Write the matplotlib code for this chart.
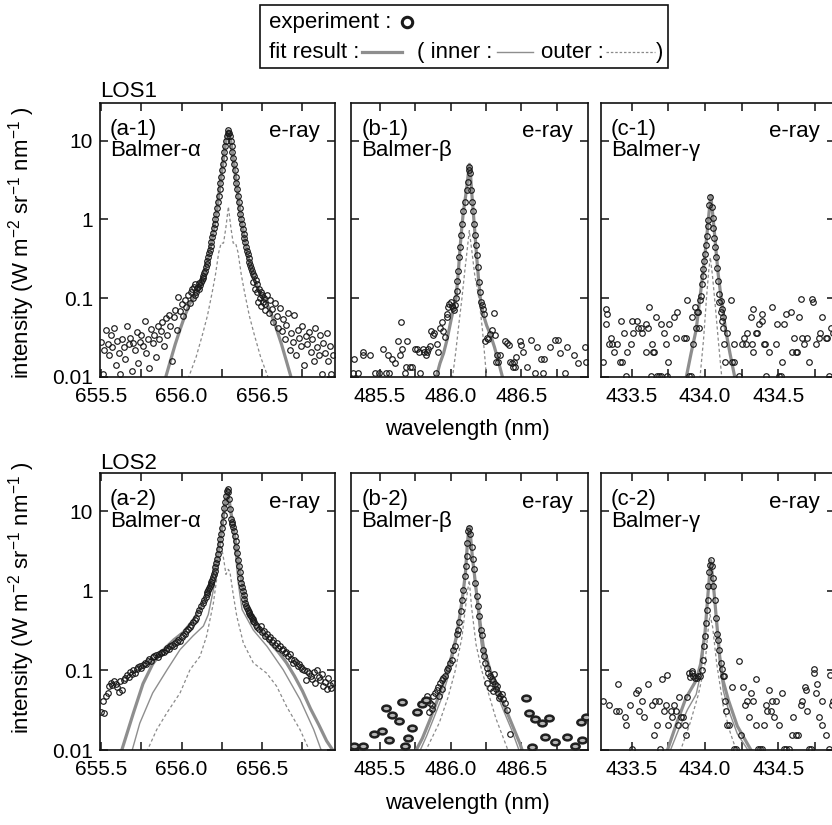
import matplotlib
matplotlib.use("Agg")
import matplotlib.pyplot as plt
from matplotlib.lines import Line2D
from matplotlib.patches import Rectangle
from matplotlib.path import Path
from matplotlib.transforms import Affine2D
from matplotlib.ticker import MultipleLocator, FixedLocator, FuncFormatter, NullLocator

plt.rcParams["font.family"] = ["Liberation Sans", "DejaVu Sans"]
plt.rcParams["mathtext.fontset"] = "custom"
plt.rcParams["mathtext.rm"] = "Liberation Sans"
plt.rcParams["mathtext.it"] = "Liberation Sans:italic"
plt.rcParams["mathtext.default"] = "regular"

# ---------------------------------------------------------------- LOS1, H-alpha
A1_WL = [
    655.50, 655.51, 655.52, 655.53, 655.54, 655.55, 655.56, 655.57, 655.58, 655.59,
    655.60, 655.61, 655.62, 655.63, 655.64, 655.65, 655.66, 655.67, 655.68, 655.69,
    655.70, 655.71, 655.72, 655.73, 655.74, 655.75, 655.76, 655.77, 655.78, 655.79,
    655.80, 655.81, 655.82, 655.83, 655.84, 655.85, 655.86, 655.87, 655.88, 655.89,
    655.90, 655.91, 655.92, 655.93, 655.94, 655.95, 655.96, 655.97, 655.98, 655.99,
    656.00, 656.01, 656.02, 656.03, 656.04, 656.05, 656.06,
    656.065, 656.070, 656.075, 656.080, 656.085, 656.090, 656.095, 656.100, 656.105, 656.110,
    656.115, 656.120, 656.125, 656.130, 656.135, 656.140, 656.145, 656.150, 656.155, 656.160,
    656.165, 656.170, 656.175, 656.180, 656.185, 656.190, 656.195, 656.200, 656.205, 656.210,
    656.215, 656.220, 656.225, 656.230, 656.235, 656.240, 656.245, 656.250, 656.255, 656.260,
    656.265, 656.270, 656.275, 656.280, 656.285, 656.290, 656.295, 656.300, 656.305, 656.310,
    656.315, 656.320, 656.325, 656.330, 656.335, 656.340, 656.345, 656.350, 656.355, 656.360,
    656.365, 656.370, 656.375, 656.380, 656.385, 656.390, 656.395, 656.400, 656.405, 656.410,
    656.415, 656.420, 656.425, 656.430, 656.435, 656.440, 656.445, 656.450, 656.455, 656.460,
    656.465, 656.470, 656.475, 656.480, 656.485, 656.490, 656.495, 656.500, 656.505, 656.510,
    656.515,
    656.52, 656.53, 656.54, 656.55, 656.56, 656.57, 656.58, 656.59, 656.60, 656.61,
    656.62, 656.63, 656.64, 656.65, 656.66, 656.67, 656.68, 656.69, 656.70, 656.71,
    656.72, 656.73, 656.74, 656.75, 656.76, 656.77, 656.78, 656.79, 656.80, 656.81,
    656.82, 656.83, 656.84, 656.85, 656.86, 656.87, 656.88, 656.89, 656.90, 656.91,
    656.92, 656.93, 656.94,
]
A1_INT = [
    0.028, 0.011, 0.022, 0.040, 0.026, 0.019, 0.034, 0.024, 0.042, 0.014,
    0.029, 0.020, 0.011, 0.030, 0.024, 0.017, 0.044, 0.026, 0.031, 0.012,
    0.027, 0.022, 0.037, 0.015, 0.028, 0.034, 0.025, 0.052, 0.020, 0.030,
    0.013, 0.041, 0.027, 0.034, 0.018, 0.045, 0.030, 0.038, 0.050, 0.025,
    0.056, 0.034, 0.062, 0.045, 0.016, 0.058, 0.070, 0.040, 0.105, 0.068,
    0.085, 0.060, 0.095, 0.078, 0.110, 0.088, 0.120,
    0.13, 0.10, 0.14, 0.11, 0.15, 0.12, 0.135, 0.14, 0.13, 0.155,
    0.145, 0.16, 0.17, 0.18, 0.19, 0.21, 0.22, 0.25, 0.27, 0.30,
    0.33, 0.37, 0.41, 0.46, 0.52, 0.59, 0.67, 0.77, 0.88, 1.0,
    1.18, 1.4, 1.67, 2.0, 2.41, 2.9, 3.5, 4.2, 5.0, 6.0,
    7.1, 8.5, 9.9, 11.5, 12.5, 13.5, 12.5, 11.5, 9.9, 8.5,
    7.1, 6.0, 5.0, 4.2, 3.5, 2.9, 2.4, 2.0, 1.67, 1.4,
    1.18, 1.0, 0.87, 0.76, 0.66, 0.58, 0.51, 0.45, 0.40, 0.36,
    0.32, 0.29, 0.26, 0.24, 0.22, 0.20, 0.16, 0.19, 0.13, 0.17,
    0.12, 0.15, 0.09, 0.13, 0.10, 0.12, 0.08, 0.11, 0.09, 0.10,
    0.07,
    0.085, 0.11, 0.065, 0.095, 0.072, 0.050, 0.088, 0.060, 0.042, 0.075,
    0.038, 0.055, 0.030, 0.046, 0.064, 0.022, 0.036, 0.028, 0.062, 0.019,
    0.040, 0.031, 0.025, 0.045, 0.014, 0.033, 0.026, 0.037, 0.021, 0.030,
    0.016, 0.042, 0.024, 0.019, 0.034, 0.011, 0.027, 0.020, 0.036, 0.016,
    0.025, 0.011, 0.019,
]
A1_FIT_WL = [
    655.90, 655.93, 655.96, 655.99, 656.02, 656.05, 656.07, 656.09, 656.11, 656.13,
    656.15, 656.17, 656.19, 656.21, 656.22, 656.23, 656.24, 656.25, 656.26, 656.27,
    656.28, 656.29, 656.30, 656.31, 656.32, 656.33, 656.34, 656.35, 656.36, 656.37,
    656.39, 656.41, 656.43, 656.45, 656.47, 656.49, 656.51, 656.53, 656.56, 656.59,
    656.62, 656.65, 656.68,
]
A1_FIT = [
    0.0098, 0.016, 0.026, 0.040, 0.060, 0.085, 0.098, 0.115, 0.14, 0.175,
    0.24, 0.36, 0.58, 1.0, 1.4, 2.0, 2.9, 4.2, 6.0, 8.5,
    11.5, 13.5, 11.5, 8.5, 6.0, 4.2, 2.9, 2.0, 1.4, 1.0,
    0.58, 0.36, 0.24, 0.175, 0.14, 0.115, 0.098, 0.085, 0.060, 0.040,
    0.026, 0.016, 0.0098,
]
A1_OUT_WL = [656.04, 656.09, 656.13, 656.16, 656.19, 656.21, 656.23, 656.245, 656.26, 656.275,
             656.29, 656.305, 656.32, 656.335, 656.35, 656.37, 656.39, 656.42, 656.45, 656.49,
             656.54]
A1_OUT = [0.0095, 0.018, 0.035, 0.06, 0.12, 0.2, 0.38, 0.5, 0.5, 0.8,
          1.45, 0.8, 0.5, 0.5, 0.38, 0.2, 0.12, 0.06, 0.035, 0.018,
          0.0095]

# ---------------------------------------------------------------- LOS1, H-beta
B1_WL = [
    485.307, 485.317, 485.347, 485.378, 485.383, 485.430, 485.465, 485.496,
    485.524, 485.540, 485.559, 485.567, 485.585, 485.607, 485.630, 485.642,
    485.647, 485.654, 485.677, 485.684, 485.694, 485.713, 485.724, 485.748,
    485.760, 485.779, 485.783, 485.807, 485.814, 485.826, 485.835, 485.842,
    485.854, 485.861, 485.878, 485.882, 485.896, 485.901, 485.913, 485.925,
    485.936, 485.943, 485.960, 485.972, 485.976, 485.984, 485.991, 486.000,
    486.009, 486.016, 486.024, 486.031, 486.038, 486.042, 486.047, 486.054,
    486.061, 486.066, 486.073, 486.082, 486.090, 486.101, 486.113, 486.122,
    486.127, 486.132, 486.137, 486.146, 486.153, 486.160, 486.167, 486.172,
    486.179, 486.184, 486.191, 486.200, 486.206, 486.212, 486.219, 486.226,
    486.236, 486.243, 486.254, 486.266, 486.278, 486.292, 486.306, 486.313,
    486.320, 486.325, 486.337, 486.350, 486.384, 486.396, 486.412, 486.419,
    486.431, 486.438, 486.448, 486.455, 486.466, 486.490, 486.495, 486.514,
    486.537, 486.572, 486.596, 486.608, 486.636, 486.655, 486.660, 486.702,
    486.737, 486.761, 486.773, 486.808, 486.824, 486.870, 486.900, 486.949,
    486.956,
]
B1_INT = [
    0.0114, 0.0171, 0.0114, 0.0190, 0.0209, 0.0190, 0.0114, 0.0114,
    0.0228, 0.0114, 0.0190, 0.0114, 0.0171, 0.0152, 0.0285, 0.0190,
    0.0494, 0.0228, 0.0114, 0.0133, 0.0285, 0.0133, 0.0133, 0.0228,
    0.0228, 0.0209, 0.0114, 0.0228, 0.0209, 0.0190, 0.0209, 0.0228,
    0.0247, 0.0380, 0.0342, 0.0361, 0.0114, 0.0266, 0.0209, 0.0418,
    0.0494, 0.0380, 0.0323, 0.0570, 0.0630, 0.0780, 0.0850, 0.0890,
    0.0800, 0.0750, 0.0710, 0.0830, 0.102, 0.124, 0.166, 0.22,
    0.33, 0.44, 0.64, 0.87, 1.26, 1.68, 2.36, 3.0,
    4.2, 4.64, 3.83, 2.36, 1.68, 1.26, 0.87, 0.64,
    0.48, 0.35, 0.25, 0.16, 0.12, 0.089, 0.083, 0.074,
    0.063, 0.0290, 0.0315, 0.0306, 0.0354, 0.0390, 0.0650, 0.0337,
    0.0156, 0.0189, 0.0156, 0.0189, 0.0290, 0.0270, 0.0253, 0.0156,
    0.0149, 0.0133, 0.0156, 0.0133, 0.0180, 0.0290, 0.0253, 0.0208,
    0.0133, 0.0298, 0.0114, 0.0241, 0.0171, 0.0114, 0.0171, 0.0241,
    0.0298, 0.0298, 0.0199, 0.0114, 0.0241, 0.0190, 0.0152, 0.0241,
    0.0156,
]
B1_FIT_WL = [485.895, 485.925, 485.950, 485.975, 486.005, 486.038, 486.054, 486.066, 486.077,
             486.090, 486.101, 486.113, 486.125, 486.133, 486.140, 486.150, 486.160, 486.172,
             486.184, 486.198, 486.212, 486.236, 486.255, 486.280, 486.310, 486.335, 486.370]
B1_FIT = [0.0095, 0.015, 0.020, 0.030, 0.055, 0.10, 0.21, 0.42, 0.72,
          1.25, 1.70, 2.45, 3.80, 5.0, 3.9, 2.1, 1.26, 0.66,
          0.34, 0.17, 0.093, 0.058, 0.045, 0.035, 0.024, 0.0165, 0.0095]
B1_OUT_WL = [486.012, 486.035, 486.06, 486.08, 486.10, 486.115, 486.132, 486.15, 486.17,
             486.20, 486.225, 486.255]
B1_OUT = [0.0095, 0.02, 0.05, 0.1, 0.22, 0.38, 0.72, 0.4, 0.2, 0.1, 0.04, 0.0095]

# ---------------------------------------------------------------- LOS1, H-gamma
C1_WL = [
    433.305, 433.323, 433.327, 433.334, 433.345, 433.357, 433.368, 433.380,
    433.402, 433.418, 433.425, 433.432, 433.448, 433.459, 433.470, 433.493,
    433.505, 433.510, 433.539, 433.546, 433.561, 433.568, 433.595, 433.600,
    433.614, 433.618, 433.630, 433.636, 433.645, 433.655, 433.668, 433.675,
    433.686, 433.698, 433.700, 433.720, 433.732, 433.743, 433.750, 433.755,
    433.789, 433.800, 433.811, 433.857, 433.873, 433.880, 433.890, 433.902,
    433.914, 433.920, 433.932, 433.936, 433.943, 433.950, 433.959, 433.964,
    433.970, 433.977, 433.984, 433.989, 433.993, 434.000, 434.007, 434.011,
    434.018, 434.023, 434.030, 434.034, 434.045, 434.052, 434.057, 434.064,
    434.068, 434.075, 434.080, 434.091, 434.098, 434.107, 434.114, 434.120,
    434.095, 434.110, 434.118, 434.123, 434.130, 434.136, 434.152, 434.175,
    434.186, 434.198, 434.200, 434.232, 434.254, 434.266, 434.277, 434.289,
    434.311, 434.323, 434.327, 434.329, 434.345, 434.352, 434.368, 434.386,
    434.391, 434.402, 434.409, 434.414, 434.436, 434.459, 434.482, 434.493,
    434.505, 434.516, 434.523, 434.539, 434.550, 434.584, 434.595, 434.607,
    434.618, 434.630, 434.641, 434.652, 434.664, 434.675, 434.698, 434.709,
    434.732, 434.736, 434.754, 434.777, 434.787, 434.800, 434.823, 434.834,
    434.845, 434.860, 434.870,
]
C1_INT = [
    0.0156, 0.0728, 0.0468, 0.0624, 0.0260, 0.0312, 0.0260, 0.0208,
    0.0260, 0.0156, 0.0520, 0.0156, 0.0364, 0.0104, 0.0208, 0.0260,
    0.0520, 0.0364, 0.0520, 0.0416, 0.0416, 0.0364, 0.0208, 0.0468,
    0.0416, 0.0780, 0.0104, 0.0260, 0.0208, 0.0208, 0.0572, 0.0104,
    0.0104, 0.0468, 0.0104, 0.0364, 0.0260, 0.0104, 0.0156, 0.0468,
    0.0572, 0.0312, 0.0676, 0.0312, 0.0312, 0.0936, 0.0104, 0.0104,
    0.0572, 0.0260, 0.0780, 0.0416, 0.0676, 0.0676, 0.0416, 0.0936,
    0.107, 0.150, 0.190, 0.233, 0.300, 0.360, 0.480, 0.610,
    0.820, 0.990, 1.530, 1.950, 1.420, 1.040, 0.780, 0.580,
    0.440, 0.330, 0.244, 0.166, 0.113, 0.093, 0.073, 0.057,
    0.0884, 0.0676, 0.0520, 0.0416, 0.0260, 0.0156, 0.0364, 0.0936,
    0.0156, 0.0156, 0.0260, 0.0104, 0.0260, 0.0312, 0.0260, 0.0364,
    0.0572, 0.0260, 0.0728, 0.0208, 0.0364, 0.0364, 0.0468, 0.0624,
    0.0520, 0.0260, 0.0260, 0.0104, 0.0208, 0.0780, 0.0260, 0.0468,
    0.0104, 0.0104, 0.0156, 0.0468, 0.0624, 0.0676, 0.0208, 0.0312,
    0.0208, 0.0208, 0.0572, 0.0988, 0.0312, 0.0260, 0.0312, 0.0156,
    0.0988, 0.0884, 0.0260, 0.0312, 0.0364, 0.0572, 0.0312, 0.0312,
    0.0104, 0.0416, 0.0364,
]
C1_FIT_WL = [433.870, 433.905, 433.940, 433.965, 433.985, 434.000, 434.015, 434.027, 434.039,
             434.050, 434.062, 434.075, 434.090, 434.110, 434.140, 434.170, 434.205]
C1_FIT = [0.0095, 0.02, 0.04, 0.1, 0.2, 0.36, 0.7, 1.2, 2.0,
          1.3, 0.75, 0.4, 0.2, 0.1, 0.04, 0.02, 0.0095]
C1_OUT_WL = [433.965, 433.990, 434.010, 434.025, 434.036, 434.050, 434.070, 434.090, 434.115]
C1_OUT = [0.0095, 0.03, 0.1, 0.22, 0.33, 0.2, 0.08, 0.03, 0.0095]

# ---------------------------------------------------------------- LOS2, H-alpha
A2_WL = [
    655.50, 655.51, 655.52, 655.53, 655.54, 655.55, 655.56, 655.57, 655.58, 655.59,
    655.60, 655.61, 655.62, 655.63, 655.64, 655.65, 655.66, 655.67, 655.68, 655.69,
    655.70, 655.71, 655.72, 655.73, 655.74, 655.75, 655.76, 655.77, 655.78, 655.79,
    655.80, 655.81, 655.82, 655.83, 655.84, 655.85, 655.86, 655.87, 655.88, 655.89,
    655.90, 655.91, 655.92, 655.93, 655.94, 655.95, 655.96, 655.97, 655.98, 655.99,
    656.00, 656.01, 656.02, 656.03, 656.04, 656.05, 656.06, 656.07, 656.08, 656.09,
    656.10, 656.11, 656.12, 656.13, 656.14, 656.15,
    656.155, 656.160, 656.165, 656.170, 656.175, 656.180, 656.185, 656.190, 656.195, 656.200,
    656.205, 656.210, 656.215, 656.220, 656.225, 656.230, 656.235, 656.240, 656.245, 656.250,
    656.255, 656.260, 656.265, 656.270, 656.275, 656.280, 656.285, 656.290, 656.295, 656.300,
    656.305, 656.310, 656.315, 656.320, 656.325, 656.330, 656.335, 656.340, 656.345, 656.350,
    656.355, 656.360, 656.365, 656.370, 656.375, 656.380, 656.385, 656.390, 656.395, 656.400,
    656.405, 656.410, 656.415, 656.420, 656.425, 656.430, 656.435, 656.440, 656.445, 656.450,
    656.46, 656.47, 656.48, 656.49, 656.50, 656.51, 656.52, 656.53, 656.54, 656.55,
    656.56, 656.57, 656.58, 656.59, 656.60, 656.61, 656.62, 656.63, 656.64, 656.65,
    656.66, 656.67, 656.68, 656.69, 656.70, 656.71, 656.72, 656.73, 656.74, 656.75,
    656.76, 656.77, 656.78, 656.79, 656.80, 656.81, 656.82, 656.83, 656.84, 656.85,
    656.86, 656.87, 656.88, 656.89, 656.90, 656.91, 656.92, 656.93, 656.94,
]
A2_INT = [
    0.030, 0.041, 0.029, 0.048, 0.052, 0.063, 0.070, 0.066, 0.074, 0.068,
    0.062, 0.054, 0.074, 0.057, 0.076, 0.080, 0.088, 0.082, 0.094, 0.090,
    0.100, 0.092, 0.105, 0.110, 0.113, 0.108, 0.118, 0.125, 0.120, 0.130,
    0.138, 0.132, 0.145, 0.150, 0.155, 0.148, 0.160, 0.165, 0.172, 0.168,
    0.180, 0.190, 0.185, 0.200, 0.208, 0.204, 0.220, 0.226, 0.238, 0.236,
    0.260, 0.280, 0.290, 0.310, 0.330, 0.350, 0.370, 0.400, 0.430, 0.460,
    0.520, 0.580, 0.640, 0.700, 0.770, 0.840,
    0.92, 0.96, 1.01, 1.07, 1.13, 1.20, 1.29, 1.38, 1.48, 1.62,
    1.78, 1.97, 2.2, 2.5, 2.85, 3.3, 3.8, 4.4, 5.2, 6.1,
    7.3, 8.9, 10.8, 13.0, 15.5, 17.8, 19.0, 17.5, 14.0, 10.5,
    8.0, 7.3, 6.8, 6.3, 5.6, 4.9, 4.2, 3.5, 2.95, 2.45,
    2.05, 1.70, 1.45, 1.26, 1.10, 0.98, 0.88, 0.78, 0.70, 0.65,
    0.61, 0.57, 0.54, 0.52, 0.50, 0.48, 0.46, 0.44, 0.42, 0.40,
    0.37, 0.35, 0.33, 0.36, 0.30, 0.31, 0.27, 0.29, 0.25, 0.26,
    0.23, 0.24, 0.21, 0.22, 0.19, 0.20, 0.18, 0.185, 0.165, 0.17,
    0.15, 0.16, 0.14, 0.125, 0.135, 0.128, 0.115, 0.120, 0.110, 0.105,
    0.100, 0.075, 0.098, 0.092, 0.085, 0.078, 0.094, 0.070, 0.100, 0.083,
    0.075, 0.090, 0.064, 0.072, 0.058, 0.080, 0.066, 0.060, 0.070,
]
A2_FIT_WL = [655.625, 655.70, 655.76, 655.82, 655.88, 655.95, 656.01, 656.07, 656.11, 656.15,
             656.19, 656.22, 656.24, 656.26, 656.285, 656.30, 656.32, 656.34, 656.36, 656.38,
             656.40, 656.45, 656.50, 656.55, 656.60, 656.65, 656.70, 656.75, 656.80, 656.85,
             656.90, 656.945]
A2_FIT = [0.0095, 0.029, 0.068, 0.12, 0.175, 0.24, 0.30, 0.42, 0.57, 0.82,
          1.45, 2.6, 4.4, 9.0, 19.0, 11.5, 6.4, 3.5, 1.8, 1.05,
          0.66, 0.42, 0.30, 0.22, 0.17, 0.125, 0.085, 0.055, 0.033, 0.021,
          0.013, 0.0095]
A2_IN_WL = [655.69, 655.74, 655.82, 655.91, 655.99, 656.07, 656.135, 656.165, 656.20, 656.24,
            656.262, 656.285, 656.30, 656.32, 656.35, 656.375, 656.445, 656.53, 656.63, 656.735,
            656.82, 656.87]
A2_IN = [0.0095, 0.0217, 0.052, 0.102, 0.182, 0.27, 0.36, 0.50, 1.1, 3.6,
         8.5, 18.0, 10.0, 5.9, 1.3, 0.58, 0.32, 0.20, 0.102, 0.043,
         0.018, 0.0095]
A2_OUT_WL = [655.783, 655.845, 655.907, 655.99, 656.052, 656.114, 656.155, 656.197, 656.217,
             656.235, 656.248, 656.262, 656.275, 656.29, 656.30, 656.32, 656.342, 656.383,
             656.445, 656.528, 656.59, 656.652, 656.735, 656.797]
A2_OUT = [0.0095, 0.018, 0.029, 0.052, 0.102, 0.15, 0.27, 0.70, 1.38,
          2.6, 3.5, 2.4, 1.6, 1.85, 1.7, 0.9, 0.48, 0.22,
          0.124, 0.092, 0.063, 0.035, 0.018, 0.0095]

# ---------------------------------------------------------------- LOS2, H-beta
B2_WL = [
    485.830, 485.846, 485.854, 485.866, 485.870, 485.878, 485.890, 485.901,
    485.913, 485.920, 485.925, 485.936, 485.940, 485.948, 485.960, 485.972,
    485.984, 485.995, 486.007, 486.019, 486.031, 486.042, 486.054, 486.061,
    486.071, 486.078, 486.090, 486.101, 486.106, 486.113, 486.118, 486.125,
    486.132, 486.137, 486.148, 486.155, 486.165, 486.174, 486.184, 486.196,
    486.203, 486.212, 486.219, 486.226, 486.236, 486.243, 486.254, 486.260,
    486.266, 486.278, 486.280, 486.290, 486.300, 486.302, 486.310, 486.313,
    486.320, 486.325, 486.337, 486.340, 486.349, 486.360, 486.372, 486.384,
    486.396, 486.419,
]
B2_INT = [
    0.047, 0.030, 0.039, 0.037, 0.033, 0.047, 0.052, 0.057,
    0.062, 0.048, 0.069, 0.075, 0.058, 0.080, 0.084, 0.102,
    0.107, 0.124, 0.136, 0.180, 0.200, 0.290, 0.320, 0.410,
    0.550, 0.770, 1.030, 1.520, 2.040, 2.720, 4.000, 5.600,
    6.200, 5.100, 3.500, 2.470, 1.850, 1.260, 0.850, 0.640,
    0.480, 0.320, 0.280, 0.180, 0.150, 0.124, 0.107, 0.070,
    0.092, 0.084, 0.060, 0.078, 0.055, 0.073, 0.090, 0.068,
    0.058, 0.063, 0.052, 0.045, 0.047, 0.050, 0.044, 0.039,
    0.032, 0.016,
]
# wing points that overlap into doubled markers
B2_DBL_WL = [
    485.317, 485.380, 485.458, 485.517, 485.541, 485.564, 485.588, 485.635,
    485.653, 485.677, 485.701, 485.724, 485.764, 485.795, 485.823, 486.530,
    486.554, 486.577, 486.600, 486.643, 486.671, 486.695, 486.737, 486.824,
    486.883, 486.919, 486.930, 486.958,
]
B2_DBL_INT = [
    0.0112, 0.0112, 0.0159, 0.0175, 0.0335, 0.0134, 0.0276, 0.0234,
    0.0403, 0.0112, 0.0140, 0.0187, 0.0304, 0.0376, 0.0427, 0.0450,
    0.0295, 0.0108, 0.0243, 0.0217, 0.0144, 0.0250, 0.0127, 0.0147,
    0.0112, 0.0224, 0.0134, 0.0263,
]
B2_FIT_WL = [485.750, 485.800, 485.854, 485.901, 485.948, 486.007, 486.042, 486.070, 486.090,
             486.105, 486.118, 486.125, 486.133, 486.140, 486.148, 486.155, 486.165, 486.175,
             486.185, 486.196, 486.205, 486.215, 486.231, 486.278, 486.325, 486.372, 486.431,
             486.490, 486.510]
B2_FIT = [0.0095, 0.014, 0.024, 0.040, 0.069, 0.15, 0.27, 0.55, 1.0,
          1.7, 3.8, 5.2, 6.3, 5.0, 3.5, 2.5, 1.8, 1.25,
          0.88, 0.62, 0.45, 0.32, 0.20, 0.102, 0.063, 0.039, 0.0217,
          0.0121, 0.0095]
B2_IN_WL = [485.780, 485.830, 485.880, 485.930, 485.975, 486.015, 486.045, 486.070, 486.090,
            486.105, 486.118, 486.125, 486.133, 486.140, 486.148, 486.155, 486.165, 486.175,
            486.185, 486.196, 486.205, 486.215, 486.231, 486.278, 486.325, 486.372, 486.431,
            486.488]
B2_IN = [0.0095, 0.015, 0.025, 0.042, 0.075, 0.15, 0.26, 0.50, 0.95,
         1.6, 3.6, 5.0, 6.0, 4.8, 3.3, 2.35, 1.65, 1.1,
         0.72, 0.45, 0.32, 0.22, 0.15, 0.085, 0.052, 0.032, 0.018,
         0.0095]
B2_OUT_WL = [485.82, 485.92, 485.98, 486.03, 486.08, 486.10, 486.118, 486.132, 486.148,
             486.18, 486.22, 486.27, 486.32, 486.41]
B2_OUT = [0.0095, 0.022, 0.045, 0.095, 0.26, 0.52, 0.95, 1.35, 0.62,
          0.21, 0.10, 0.05, 0.025, 0.0095]

# ---------------------------------------------------------------- LOS2, H-gamma
C2_WL = [
    433.305, 433.346, 433.396, 433.409, 433.414, 433.455, 433.464, 433.486,
    433.505, 433.527, 433.546, 433.550, 433.573, 433.614, 433.636, 433.652,
    433.659, 433.675, 433.686, 433.705, 433.720, 433.732, 433.743, 433.750,
    433.766, 433.777, 433.789, 433.800, 433.818, 433.823, 433.836, 433.850,
    433.861, 433.868, 433.879, 433.891, 433.900, 433.914, 433.693, 433.587,
    433.909, 433.920, 433.932, 433.943, 433.955, 433.966, 433.977, 433.989,
    433.993, 434.000, 434.007, 434.011, 434.018, 434.023, 434.030, 434.035,
    434.039, 434.045, 434.052, 434.057, 434.066, 434.075, 434.084, 434.091,
    434.098, 434.107, 434.114, 434.120, 434.127,
    434.136, 434.152, 434.163, 434.182, 434.198, 434.209, 434.232, 434.243,
    434.273, 434.289, 434.311, 434.327, 434.345, 434.348, 434.360, 434.377,
    434.390, 434.402, 434.414, 434.436, 434.448, 434.459, 434.470, 434.486,
    434.505, 434.523, 434.539, 434.550, 434.570, 434.590, 434.618, 434.636,
    434.652, 434.682, 434.686, 434.698, 434.710, 434.720, 434.743, 434.745,
    434.754, 434.766, 434.777, 434.795, 434.800, 434.823, 434.845, 434.850,
    434.865, 434.875, 434.140, 434.260, 434.300, 434.420, 434.600, 434.660,
]
C2_INT = [
    0.0416, 0.0364, 0.0312, 0.0676, 0.0312, 0.0260, 0.0208, 0.0364,
    0.0104, 0.0520, 0.0572, 0.0312, 0.0416, 0.0676, 0.0364, 0.0156,
    0.0416, 0.0208, 0.0416, 0.0780, 0.0312, 0.0364, 0.0884, 0.0208,
    0.0312, 0.0260, 0.0364, 0.0312, 0.0208, 0.0468, 0.0260, 0.0260,
    0.0208, 0.0156, 0.0468, 0.0936, 0.0832, 0.0936, 0.0104, 0.0260,
    0.097, 0.084, 0.080, 0.080, 0.084, 0.084, 0.102, 0.136,
    0.200, 0.270, 0.390, 0.580, 0.770, 1.140, 1.710, 2.100,
    2.400, 2.070, 1.450, 1.140, 0.770, 0.455, 0.290, 0.240,
    0.180, 0.124, 0.104, 0.084, 0.084,
    0.0416, 0.0208, 0.0208, 0.0624, 0.0104, 0.0104, 0.1300, 0.0156,
    0.0364, 0.0416, 0.0520, 0.0416, 0.0208, 0.0780, 0.0104, 0.0104,
    0.0104, 0.0208, 0.0364, 0.0572, 0.0312, 0.0416, 0.0260, 0.0416,
    0.0208, 0.0520, 0.0104, 0.0104, 0.0104, 0.0156, 0.0156, 0.0156,
    0.0364, 0.0624, 0.0572, 0.0312, 0.0104, 0.0104, 0.0936, 0.1040,
    0.0520, 0.0676, 0.0260, 0.0416, 0.0208, 0.0156, 0.0104, 0.0884,
    0.0364, 0.0416, 0.0312, 0.0624, 0.0260, 0.0312, 0.0260, 0.0416,
]
C2_FIT_WL = [433.74, 433.80, 433.87, 433.94, 433.97, 434.00, 434.02, 434.039, 434.055,
             434.075, 434.10, 434.125, 434.16, 434.22, 434.32]
C2_FIT = [0.0095, 0.02, 0.045, 0.075, 0.12, 0.3, 0.9, 2.4, 1.3,
          0.5, 0.15, 0.072, 0.042, 0.02, 0.0095]
C2_IN_WL = [433.76, 433.82, 433.88, 433.94, 433.97, 434.00, 434.02, 434.039, 434.055,
            434.075, 434.10, 434.125, 434.16, 434.22, 434.30]
C2_IN = [0.0095, 0.018, 0.032, 0.05, 0.09, 0.26, 0.85, 2.3, 1.2,
         0.45, 0.12, 0.055, 0.032, 0.016, 0.0095]
C2_OUT_WL = [433.83, 433.898, 433.955, 434.00, 434.023, 434.034, 434.052, 434.08, 434.125,
             434.17, 434.216]
C2_OUT = [0.0095, 0.0217, 0.05, 0.12, 0.35, 0.5, 0.35, 0.12, 0.035, 0.017, 0.0095]

Y_TICKS = [0.01, 0.1, 1, 10]
Y_TICK_LABELS = ["0.01", "0.1", "1", "10"]

FIT_GREY = "#8e8e8e"
INNER_GREY = "#8e8e8e"
OUTER_GREY = "#8a8a8a"
DOT = "#1a1a1a"
FS_TICK = 15
FS = 16

W, H = 832, 825


def fx(x):
    return x / W


def fy(y):
    return 1 - y / H


def rect(left, top, right, bottom):
    return [left / W, 1 - bottom / H, (right - left) / W, (bottom - top) / H]


COLS = {"a": (100, 335), "b": (351, 588), "c": (601, 835)}
ROWS = {1: (103, 377), 2: (473, 750)}

PANELS = [
    dict(col="a", row=1, xlim=(655.493, 656.952), pts=(A1_WL, A1_INT),
         fit=(A1_FIT_WL, A1_FIT), inner=None, outer=(A1_OUT_WL, A1_OUT),
         tag="(a-1)", line="Balmer-α"),
    dict(col="b", row=1, xlim=(485.295, 486.972), pts=(B1_WL, B1_INT),
         fit=(B1_FIT_WL, B1_FIT), inner=None, outer=(B1_OUT_WL, B1_OUT),
         tag="(b-1)", line="Balmer-β"),
    dict(col="c", row=1, xlim=(433.291, 434.886), pts=(C1_WL, C1_INT),
         fit=(C1_FIT_WL, C1_FIT), inner=None, outer=(C1_OUT_WL, C1_OUT),
         tag="(c-1)", line="Balmer-γ"),
    dict(col="a", row=2, xlim=(655.493, 656.952), pts=(A2_WL, A2_INT),
         fit=(A2_FIT_WL, A2_FIT), inner=(A2_IN_WL, A2_IN), outer=(A2_OUT_WL, A2_OUT),
         tag="(a-2)", line="Balmer-α"),
    dict(col="b", row=2, xlim=(485.295, 486.972), pts=(B2_WL, B2_INT),
         fit=(B2_FIT_WL, B2_FIT), inner=(B2_IN_WL, B2_IN), outer=(B2_OUT_WL, B2_OUT),
         tag="(b-2)", line="Balmer-β", dbl=(B2_DBL_WL, B2_DBL_INT)),
    dict(col="c", row=2, xlim=(433.291, 434.886), pts=(C2_WL, C2_INT),
         fit=(C2_FIT_WL, C2_FIT), inner=(C2_IN_WL, C2_IN), outer=(C2_OUT_WL, C2_OUT),
         tag="(c-2)", line="Balmer-γ"),
]

# squashed ring used for overlapping wing points
WIDE_RING = Path.unit_circle().transformed(Affine2D().scale(1.45, 1.0))


def half_nm_label(v, _pos):
    if abs(v * 2 - round(v * 2)) < 1e-6:
        return f"{v:.1f}"
    return ""


def draw_panel(ax, p):
    if p["fit"] is not None:
        ax.plot(*p["fit"], color=FIT_GREY, lw=2.3, zorder=2, solid_capstyle="butt")
    if p["inner"] is not None:
        ax.plot(*p["inner"], color=INNER_GREY, lw=1.0, zorder=2)
    if p["outer"] is not None:
        ax.plot(*p["outer"], color=OUTER_GREY, lw=0.9, ls=(0, (2.5, 2.0)), zorder=2)
    ax.plot(*p["pts"], ls="none", marker="o", ms=4.0, mfc="none", mec=DOT,
            mew=0.85, zorder=3)
    if "dbl" in p:
        ax.plot(*p["dbl"], ls="none", marker=WIDE_RING, ms=6.0, mfc="#b5b5b5",
                mec="#202020", mew=1.8, zorder=3)

    ax.set_yscale("log")
    ax.set_ylim(0.01, 30)
    ax.set_xlim(*p["xlim"])

    ax.xaxis.set_major_locator(MultipleLocator(0.25))
    ax.xaxis.set_major_formatter(FuncFormatter(half_nm_label))
    ax.yaxis.set_major_locator(FixedLocator(Y_TICKS))
    ax.yaxis.set_minor_locator(NullLocator())
    ax.tick_params(axis="both", which="major", direction="in", top=True, right=True,
                   length=5.5, width=1.1, labelsize=FS_TICK, color="#111111")
    ax.tick_params(axis="x", pad=7)
    ax.tick_params(axis="y", pad=5)
    if p["col"] == "a":
        ax.set_yticklabels(Y_TICK_LABELS)
    else:
        ax.tick_params(axis="y", labelleft=False)
    for sp in ax.spines.values():
        sp.set_linewidth(1.2)
        sp.set_color("#111111")

    ax.text(0.043, 0.885, p["tag"], transform=ax.transAxes, fontsize=FS, va="baseline")
    ax.text(0.043, 0.805, p["line"], transform=ax.transAxes, fontsize=FS, va="baseline")
    ax.text(0.935, 0.875, "e-ray", transform=ax.transAxes, fontsize=FS, va="baseline",
            ha="right")


fig = plt.figure(figsize=(W / 100, H / 100), dpi=100)

for p in PANELS:
    left, right = COLS[p["col"]]
    top, bottom = ROWS[p["row"]]
    ax = fig.add_axes(rect(left, top, right, bottom))
    draw_panel(ax, p)

ylabel = "intensity (W m$^{-2}$ sr$^{-1}$ nm$^{-1}$ )"
fig.text(fx(22), fy(243), ylabel, rotation=90, fontsize=FS, ha="center", va="center")
fig.text(fx(22), fy(598), ylabel, rotation=90, fontsize=FS, ha="center", va="center")
fig.text(fx(467), fy(430), "wavelength (nm)", fontsize=FS, ha="center", va="center")
fig.text(fx(467), fy(804), "wavelength (nm)", fontsize=FS, ha="center", va="center")
fig.text(fx(100), fy(97), "LOS1", fontsize=FS, va="baseline")
fig.text(fx(100), fy(469), "LOS2", fontsize=FS, va="baseline")

# key box at the top
fig.add_artist(Rectangle((fx(260), fy(68)), (668 - 260) / W, (68 - 5) / H,
                         transform=fig.transFigure, fill=False, lw=1.2, ec="#111111"))
fig.text(fx(269), fy(28), "experiment :", fontsize=FS, va="baseline")
fig.add_artist(Line2D([fx(407)], [fy(22)], marker="o", ms=7.5, mfc="none", mec=DOT,
                      mew=2.2, transform=fig.transFigure))
fig.text(fx(269), fy(58), "fit result :", fontsize=FS, va="baseline")
fig.add_artist(Line2D([fx(362), fx(402)], [fy(52), fy(52)], lw=2.3, color=FIT_GREY,
                      transform=fig.transFigure))
fig.text(fx(417), fy(58), "( inner :", fontsize=FS, va="baseline")
fig.add_artist(Line2D([fx(497), fx(533)], [fy(52), fy(52)], lw=1.0, color=INNER_GREY,
                      transform=fig.transFigure))
fig.text(fx(541), fy(58), "outer :", fontsize=FS, va="baseline")
fig.add_artist(Line2D([fx(606), fx(655)], [fy(52), fy(52)], lw=0.9, color=OUTER_GREY,
                      ls=(0, (2.0, 1.5)), transform=fig.transFigure))
fig.text(fx(656), fy(58), ")", fontsize=FS, va="baseline")

fig.savefig("out.png", dpi=100)
